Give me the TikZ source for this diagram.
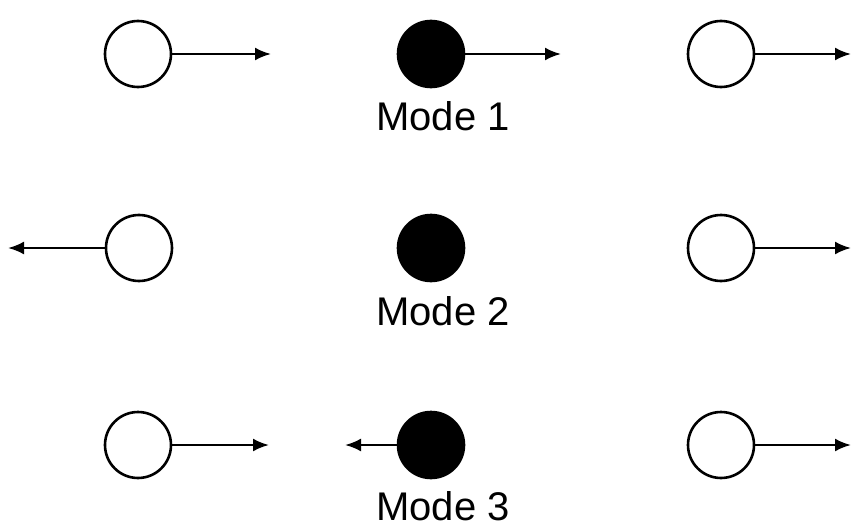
\documentclass[tikz,border=0pt]{standalone}
\usepackage{fontspec}
\setmainfont{Liberation Sans}
\usetikzlibrary{arrows.meta}
\begin{document}
\begin{tikzpicture}[x=1pt,y=-1pt,
  atom/.style={circle,draw=black,line width=2.6pt,minimum size=66pt,inner sep=0pt},
  open/.style={atom,fill=white},
  solid/.style={atom,fill=black},
  vec/.style={line width=2.4pt,-{Latex[length=16pt,width=13pt]}},
  lab/.style={anchor=base,font=\fontsize{40}{40}\selectfont,inner sep=0pt}]
\useasboundingbox (0,0) rectangle (852,527);
% row 1
\node[open]  (a1) at (138,54) {};
\node[solid] (b1) at (431,54) {};
\node[open]  (c1) at (721,54) {};
\coordinate (ea1) at (271,54);
\coordinate (eb1) at (561,54);
\coordinate (ec1) at (851,54);
\draw[vec] (a1.east) -- (ea1);
\draw[vec] (b1.east) -- (eb1);
\draw[vec] (c1.east) -- (ec1);
\node[lab] (m1) at (443,130) {Mode 1};
% row 2
\node[open]  (a2) at (139,248) {};
\node[solid] (b2) at (431,248) {};
\node[open]  (c2) at (721,248) {};
\coordinate (ea2) at (8,248);
\coordinate (ec2) at (851,248);
\draw[vec] (a2.west) -- (ea2);
\draw[vec] (c2.east) -- (ec2);
\node[lab] (m2) at (443,325) {Mode 2};
% row 3
\node[open]  (a3) at (138,445) {};
\node[solid] (b3) at (431,445) {};
\node[open]  (c3) at (721,445) {};
\coordinate (ea3) at (269,445);
\coordinate (eb3) at (345,445);
\coordinate (ec3) at (851,445);
\draw[vec] (a3.east) -- (ea3);
\draw[vec] (b3.west) -- (eb3);
\draw[vec] (c3.east) -- (ec3);
\node[lab] (m3) at (443,520) {Mode 3};
\end{tikzpicture}
\end{document}
